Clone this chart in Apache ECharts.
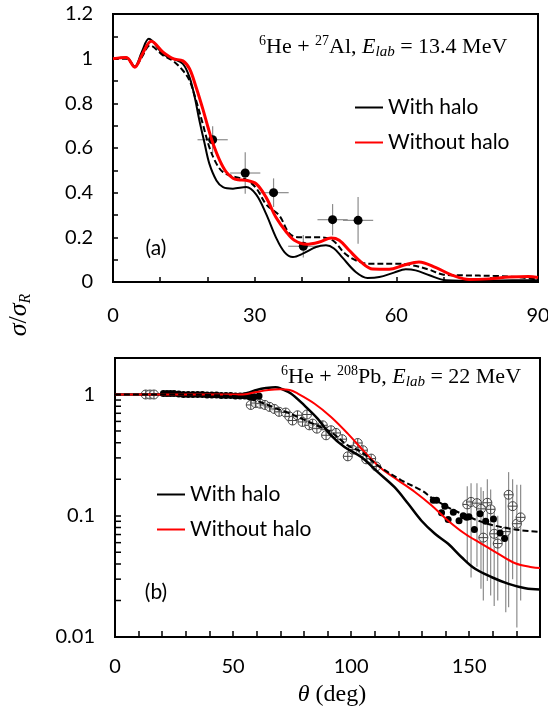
<!DOCTYPE html>
<html>
<head>
<meta charset="utf-8">
<script src="https://cdn.jsdelivr.net/npm/echarts@6.0.0/dist/echarts.min.js"></script>
<style>
  html, body { margin: 0; padding: 0; background: #fff; }
  #chart { width: 548px; height: 706px; }
</style>
</head>
<body>
<div id="chart"></div>
<script>
// ---- panel (a): 6He + 27Al, 13.4 MeV ----
const alHaloX = [0, 2.8, 4.6, 6.1, 7.6, 10.6, 12.7, 14.8, 16.2, 17.3, 18.3, 19.4, 20.4, 21.9, 23.3, 25.4, 28.2, 30.3, 32.4, 34.5, 36.3, 38.1, 40.2, 43, 45.1, 46.8, 48.6, 51.4, 53.9, 56.4, 59.5, 62, 64.1, 67, 70.5, 77.5, 84.6, 90];
const alHaloY = [1.0, 1.005, 0.965, 1.03, 1.089, 1.02, 1.0, 0.977, 0.917, 0.828, 0.723, 0.62, 0.53, 0.455, 0.425, 0.418, 0.425, 0.392, 0.306, 0.2, 0.134, 0.112, 0.127, 0.157, 0.164, 0.15, 0.109, 0.045, 0.018, 0.022, 0.042, 0.057, 0.052, 0.03, 0.008, 0.005, 0.008, 0.008];

const alNoHaloX = [0, 2.8, 4.6, 6.2, 8.1, 10.6, 12.7, 14.8, 16.2, 17.6, 19, 20.1, 21.1, 22.6, 24, 25.4, 26.5, 28.2, 30.3, 32.4, 34.5, 36.7, 38.4, 40.9, 43.7, 46.2, 47.9, 50, 52.5, 55, 58.5, 61.5, 64.8, 68.4, 71.9, 75.4, 79.6, 83.9, 88, 90];
const alNoHaloY = [1.0, 1.005, 0.962, 1.02, 1.078, 1.029, 1.0, 0.99, 0.955, 0.872, 0.776, 0.694, 0.625, 0.545, 0.492, 0.465, 0.458, 0.455, 0.44, 0.38, 0.29, 0.224, 0.187, 0.169, 0.179, 0.197, 0.187, 0.142, 0.09, 0.058, 0.057, 0.075, 0.09, 0.064, 0.03, 0.011, 0.014, 0.022, 0.025, 0.02];

const alDashX = [0, 2.8, 4.6, 6.2, 7.8, 10.6, 12.7, 14.8, 16.2, 17.6, 19, 20.4, 21.9, 23.3, 25.4, 28.2, 30.3, 32.5, 35.2, 37.4, 39.5, 43.7, 46.5, 49.3, 52.2, 54.3, 59.9, 63.4, 67, 69.8, 74, 81, 86.7, 90];
const alDashY = [1.0, 1.0, 0.965, 1.01, 1.059, 1.015, 0.99, 0.947, 0.902, 0.813, 0.709, 0.604, 0.53, 0.492, 0.473, 0.458, 0.421, 0.346, 0.298, 0.216, 0.2, 0.2, 0.187, 0.124, 0.09, 0.082, 0.082, 0.075, 0.055, 0.034, 0.03, 0.027, 0.02, 0.01];

const alExpX = [21.1, 28, 34, 40.3, 46.5, 51.9];
const alExpY = [0.637, 0.488, 0.4, 0.16, 0.279, 0.276];
const alExpXErr = [3.2, 3.2, 3.2, 3.2, 3.2, 3.2];
const alExpYErr = [0.06, 0.093, 0.064, 0.05, 0.07, 0.105];

// ---- panel (b): 6He + 208Pb, 22 MeV ----
const pbHaloX = [0, 20, 40, 52, 56, 60, 64, 68, 70.2, 74.5, 80.1, 85.8, 91.5, 97.2, 104.3, 111.3, 118.4, 124.1, 129.8, 135.5, 141.1, 146.8, 152.5, 159.6, 166.7, 173.8, 180];
const pbHaloY = [1.0, 1.0, 1.0, 1.0, 1.03, 1.09, 1.13, 1.15, 1.12, 1.02, 0.816, 0.633, 0.461, 0.369, 0.305, 0.229, 0.172, 0.126, 0.091, 0.071, 0.0587, 0.0455, 0.0365, 0.0311, 0.0274, 0.0252, 0.0246];

const pbNoHaloX = [0, 20, 40, 52, 56, 60, 65, 70, 74, 77.3, 84.4, 91.5, 98.6, 105.7, 112.8, 119.9, 127, 134, 141.1, 148.2, 155.3, 162.4, 169.5, 176.6, 180];
const pbNoHaloY = [1.0, 1.0, 1.0, 1.0, 1.01, 1.05, 1.09, 1.105, 1.09, 1.02, 0.843, 0.653, 0.476, 0.336, 0.245, 0.196, 0.157, 0.122, 0.091, 0.071, 0.0587, 0.0485, 0.0406, 0.0376, 0.037];

const pbDashX = [0, 20, 40, 50, 56, 62, 68, 72.3, 80, 86, 91.5, 98.6, 104.3, 111.3, 121.3, 129.8, 134.8, 144, 155.3, 163.8, 172.3, 180];
const pbDashY = [1.0, 1.0, 0.99, 0.97, 0.93, 0.86, 0.77, 0.72, 0.62, 0.55, 0.49, 0.38, 0.336, 0.26, 0.196, 0.162, 0.138, 0.11, 0.089, 0.0805, 0.0757, 0.0735];

// filled data points
const pbFillX = [20.5, 22, 23.5, 25, 27, 29, 31, 33, 35, 37, 39, 41, 43, 45, 47, 49, 51, 53, 55, 57, 59, 61,
  134.8, 136.2, 138.3, 139.7, 141.1, 143.3, 145.7, 147.5, 148.9, 149.9, 152.2, 154.6, 157, 160.3, 163.1, 165];
const pbFillY = [1.02, 1.02, 1.02, 1.02, 1.01, 1.0, 1.0, 1.0, 1.0, 1.0, 0.99, 0.99, 0.99, 0.98, 0.98, 0.98, 0.97, 0.97, 0.97, 0.96, 0.96, 0.97,
  0.134, 0.134, 0.106, 0.12, 0.093, 0.107, 0.091, 0.1, 0.097, 0.098, 0.077, 0.104, 0.09, 0.094, 0.072, 0.065];

// open (crossed) data points
const pbOpenX = [13, 14.8, 16.5, 57.5, 59.5, 61.5, 63.5, 65.5, 67.5, 69.5, 72.3, 73.8, 75.2, 77.3, 79.4, 81.3, 82.3, 83.7, 85.5, 88, 89.4, 91.5, 93.6, 96.2, 98.6, 100.7, 102.8, 105, 106.4, 108.5, 110.6,
  149.2, 150.8, 153.3, 155, 156, 157.7, 159.1, 160.6, 162.1, 165.5, 166.7, 168.4, 170.2, 171.8];
const pbOpenY = [1.0, 1.0, 1.0, 0.82, 0.85, 0.84, 0.82, 0.79, 0.76, 0.72, 0.71, 0.66, 0.61, 0.674, 0.594, 0.684, 0.557, 0.575, 0.523, 0.557, 0.461, 0.507, 0.482, 0.428, 0.309, 0.351, 0.398, 0.347, 0.292, 0.296, 0.255,
  0.124, 0.13, 0.127, 0.114, 0.066, 0.128, 0.113, 0.071, 0.059, 0.074, 0.149, 0.12, 0.086, 0.097];
// error bars of the large-angle open points
const pbErrX = [149.2, 150.8, 153.3, 155, 156, 157.7, 159.1, 160.6, 162.1, 165.5, 166.7, 168.4, 170.2, 171.8];
const pbErrY = [0.124, 0.13, 0.127, 0.114, 0.066, 0.128, 0.113, 0.071, 0.059, 0.074, 0.149, 0.12, 0.086, 0.097];
const pbErrLo = [0.041, 0.031, 0.038, 0.025, 0.02, 0.029, 0.022, 0.018, 0.02, 0.016, 0.0176, 0.03, 0.012, 0.02];
const pbErrHi = [0.175, 0.185, 0.185, 0.172, 0.16, 0.2, 0.165, 0.12, 0.1, 0.15, 0.229, 0.2, 0.18, 0.18];

// minor ticks of the log axis
const logMinorTicks = [0.02, 0.03, 0.04, 0.05, 0.06, 0.07, 0.08, 0.09, 0.2, 0.3, 0.4, 0.5, 0.6, 0.7, 0.8, 0.9];

const zip = (xs, ys) => xs.map((x, i) => [x, ys[i]]);
const sansFont = 'Lato';
const serifFont = 'Liberation Serif';

function errorBar(params, api) {
  const x = api.value(0), y = api.value(1);
  const xe = api.value(2), lo = api.value(3), hi = api.value(4);
  const style = { stroke: '#8c8c8c', lineWidth: 1.2 };
  const children = [];
  if (xe > 0) {
    const a = api.coord([x - xe, y]), b = api.coord([x + xe, y]);
    children.push({ type: 'line', shape: { x1: a[0], y1: a[1], x2: b[0], y2: b[1] }, style });
  }
  const c = api.coord([x, lo]), d = api.coord([x, hi]);
  children.push({ type: 'line', shape: { x1: c[0], y1: c[1], x2: d[0], y2: d[1] }, style });
  return { type: 'group', children };
}

function minorTick(params, api) {
  const p = api.coord([0, api.value(1)]);
  return { type: 'line', shape: { x1: p[0], y1: p[1], x2: p[0] + 6, y2: p[1] }, style: { stroke: '#000', lineWidth: 1.5 } };
}

const axisCommon = {
  axisLine: { show: true, lineStyle: { color: '#000', width: 2 } },
  axisTick: { show: true, inside: true, length: 5, lineStyle: { color: '#000', width: 1.5 } },
  splitLine: { show: false },
  minorTick: { show: false }
};
const labelStyle = { color: '#000', fontSize: 20, fontFamily: sansFont };
const legendText = { color: '#000', fontSize: 21, fontFamily: sansFont };

const crossCircle = 'path://M10 0A10 10 0 1 1 10 20A10 10 0 1 1 10 0ZM0 10L20 10M10 0L10 20';

const chart = echarts.init(document.getElementById('chart'), null, { renderer: 'canvas' });

const annotationRich = {
  n: { fontFamily: serifFont, fontSize: 22, lineHeight: 26, fill: '#000' },
  i: { fontFamily: serifFont, fontSize: 22, fontStyle: 'italic', lineHeight: 26, fill: '#000' },
  s: { fontFamily: serifFont, fontSize: 14, lineHeight: 26, verticalAlign: 'top', fill: '#000' },
  b: { fontFamily: serifFont, fontSize: 15, fontStyle: 'italic', lineHeight: 26, verticalAlign: 'bottom', fill: '#000' }
};

const option = {
  animation: false,
  backgroundColor: '#fff',
  grid: [
    { left: 113, top: 14, width: 425, height: 268, show: true, borderColor: '#000', borderWidth: 2, outerBoundsMode: 'none' },
    { left: 115, top: 358, width: 425, height: 279, show: true, borderColor: '#000', borderWidth: 2, outerBoundsMode: 'none' }
  ],
  xAxis: [
    Object.assign({}, axisCommon, {
      type: 'value', gridIndex: 0, min: 0, max: 90, interval: 10,
      axisLabel: Object.assign({ margin: 24, formatter: v => (v % 30 === 0 ? String(v) : '') }, labelStyle)
    }),
    Object.assign({}, axisCommon, {
      type: 'value', gridIndex: 1, min: 0, max: 180, interval: 10,
      axisTick: { show: true, inside: true, length: 6, lineStyle: { color: '#000', width: 1.5 } },
      axisLabel: Object.assign({ margin: 20, formatter: v => (v % 50 === 0 ? String(v) : '') }, labelStyle)
    })
  ],
  yAxis: [
    Object.assign({}, axisCommon, {
      type: 'value', gridIndex: 0, min: 0, max: 1.2, interval: 0.1,
      axisLabel: Object.assign({
        margin: 20,
        formatter: v => (Math.round(v * 10) % 2 === 0 ? String(parseFloat(v.toFixed(1))) : '')
      }, labelStyle)
    }),
    Object.assign({}, axisCommon, {
      type: 'log', logBase: 10, gridIndex: 1, min: 0.01, max: 2,
      axisTick: { show: true, inside: true, length: 6, lineStyle: { color: '#000', width: 1.5 } },
      axisLabel: Object.assign({
        margin: 20,
        formatter: v => {
          const l = Math.log10(v);
          return Math.abs(l - Math.round(l)) < 1e-6 ? String(Number(v.toPrecision(1))) : '';
        }
      }, labelStyle)
    })
  ],
  legend: [
    {
      left: 355, top: 97, orient: 'vertical', padding: 0, itemGap: 14,
      itemWidth: 28, itemHeight: 2, selectedMode: false, icon: 'rect',
      data: [{ name: 'With halo' }, { name: 'Without halo', itemStyle: { color: '#ff0000' } }],
      textStyle: legendText
    },
    {
      left: 157, top: 484, orient: 'vertical', padding: 0, itemGap: 14,
      itemWidth: 28, itemHeight: 2, selectedMode: false, icon: 'rect',
      data: ['With halo (b)', 'Without halo (b)'],
      formatter: name => name.replace(' (b)', ''),
      textStyle: legendText
    }
  ],
  series: [
    // panel (a)
    { name: 'Dashed (a)', type: 'line', xAxisIndex: 0, yAxisIndex: 0, data: zip(alDashX, alDashY),
      symbol: 'none', smooth: 0.35, lineStyle: { color: '#000', width: 2, type: [6, 3] } },
    { name: 'With halo', type: 'line', xAxisIndex: 0, yAxisIndex: 0, data: zip(alHaloX, alHaloY),
      symbol: 'none', smooth: 0.35, lineStyle: { color: '#000', width: 2 }, itemStyle: { color: '#000' } },
    { name: 'Without halo', type: 'line', xAxisIndex: 0, yAxisIndex: 0, data: zip(alNoHaloX, alNoHaloY),
      symbol: 'none', smooth: 0.35, lineStyle: { color: '#ff0000', width: 3 }, itemStyle: { color: '#ff0000' } },
    { name: 'Err (a)', type: 'custom', xAxisIndex: 0, yAxisIndex: 0, renderItem: errorBar, clip: false,
      encode: { x: 0, y: 1 },
      data: alExpX.map((x, i) => [x, alExpY[i], alExpXErr[i], alExpY[i] - alExpYErr[i], alExpY[i] + alExpYErr[i]]) },
    { name: 'Data (a)', type: 'scatter', xAxisIndex: 0, yAxisIndex: 0, data: zip(alExpX, alExpY),
      symbol: 'circle', symbolSize: 9, itemStyle: { color: '#000', opacity: 1 } },

    // panel (b)
    { name: 'With halo (b)', type: 'line', xAxisIndex: 1, yAxisIndex: 1, data: zip(pbHaloX, pbHaloY),
      symbol: 'none', smooth: 0.35, lineStyle: { color: '#000', width: 2.5 }, itemStyle: { color: '#000' } },
    { name: 'Without halo (b)', type: 'line', xAxisIndex: 1, yAxisIndex: 1, data: zip(pbNoHaloX, pbNoHaloY),
      symbol: 'none', smooth: 0.35, lineStyle: { color: '#ff0000', width: 2 }, itemStyle: { color: '#ff0000' } },
    { name: 'Err (b)', type: 'custom', xAxisIndex: 1, yAxisIndex: 1, renderItem: errorBar, clip: false,
      encode: { x: 0, y: 1 },
      data: pbErrX.map((x, i) => [x, pbErrY[i], 0, pbErrLo[i], pbErrHi[i]]) },
    { name: 'Open (b)', type: 'scatter', xAxisIndex: 1, yAxisIndex: 1, data: zip(pbOpenX, pbOpenY),
      symbol: crossCircle, symbolSize: 9,
      itemStyle: { color: 'rgba(255,255,255,0.7)', borderColor: '#444', borderWidth: 1, opacity: 1 } },
    { name: 'Fill (b)', type: 'scatter', xAxisIndex: 1, yAxisIndex: 1, data: zip(pbFillX, pbFillY),
      symbol: 'circle', symbolSize: 7, itemStyle: { color: '#000', opacity: 1 } },
    { name: 'Dashed (b)', type: 'line', xAxisIndex: 1, yAxisIndex: 1, data: zip(pbDashX, pbDashY),
      symbol: 'none', smooth: 0.35, lineStyle: { color: '#000', width: 2, type: [6, 3] } },
    { name: 'Minor ticks', type: 'custom', xAxisIndex: 1, yAxisIndex: 1, renderItem: minorTick, clip: false,
      encode: { x: 0, y: 1 }, silent: true,
      data: logMinorTicks.map(v => [0, v]) }
  ],
  graphic: [
    {
      type: 'text', x: 259, y: 47,
      style: { text: '{s|6}{n|He + }{s|27}{n|Al, }{i|E}{b|lab}{n| = 13.4 MeV}', textVerticalAlign: 'middle', rich: annotationRich }
    },
    {
      type: 'text', x: 281, y: 377,
      style: { text: '{s|6}{n|He + }{s|208}{n|Pb, }{i|E}{b|lab}{n| = 22 MeV}', textVerticalAlign: 'middle', rich: annotationRich }
    },
    {
      type: 'text', x: 156, y: 248,
      style: { text: '(a)', fontFamily: sansFont, fontSize: 21, fill: '#000', textAlign: 'center', textVerticalAlign: 'middle' }
    },
    {
      type: 'text', x: 156, y: 592,
      style: { text: '(b)', fontFamily: sansFont, fontSize: 21, fill: '#000', textAlign: 'center', textVerticalAlign: 'middle' }
    },
    {
      type: 'text', x: 19, y: 315, rotation: Math.PI / 2,
      style: {
        text: '{i|σ}{n|/}{i|σ}{r|R}',
        textAlign: 'center', textVerticalAlign: 'middle',
        rich: {
          i: { fontFamily: serifFont, fontSize: 26, fontStyle: 'italic', lineHeight: 30, fill: '#000' },
          n: { fontFamily: serifFont, fontSize: 26, lineHeight: 30, fill: '#000' },
          r: { fontFamily: serifFont, fontSize: 16, fontStyle: 'italic', lineHeight: 30, verticalAlign: 'bottom', fill: '#000' }
        }
      }
    },
    {
      type: 'text', x: 332, y: 695,
      style: {
        text: '{i|θ}{n| (deg)}',
        textAlign: 'center', textVerticalAlign: 'middle',
        rich: {
          i: { fontFamily: serifFont, fontSize: 24, fontStyle: 'italic', fill: '#000' },
          n: { fontFamily: serifFont, fontSize: 24, fill: '#000' }
        }
      }
    }
  ]
};

chart.setOption(option);
</script>
</body>
</html>
